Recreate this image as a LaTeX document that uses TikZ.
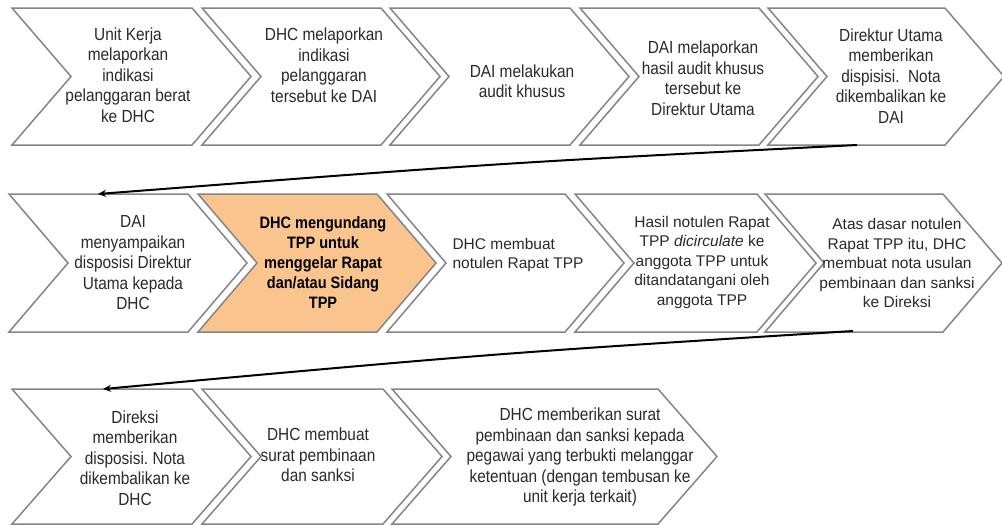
\documentclass[tikz,border=0pt]{standalone}
\usepackage{fontspec}
\setmainfont{Liberation Sans}
\newfontfamily\narrowfont{Liberation Sans}[FakeStretch=0.88]
\usetikzlibrary{arrows.meta}
\frenchspacing

\definecolor{edgegray}{HTML}{858585}
\definecolor{stepfill}{HTML}{FAC48F}
\definecolor{inkgray}{HTML}{2A2A2A}

\tikzset{
  chev/.style={draw=edgegray, line width=1.5pt, fill=white, line join=miter},
  hot/.style={fill=stepfill},
  lbl/.style={align=center, text=inkgray, inner sep=0pt},
  cond/.style={font=\narrowfont\fontsize{17.5}{20.5}\selectfont},
  regular/.style={font=\fontsize{15.5}{19.5}\selectfont},
  strong/.style={font=\narrowfont\bfseries\fontsize{16.5}{20}\selectfont, text=black},
  flow/.style={draw=black, line width=2pt, -{Stealth[length=8pt,width=7pt]}},
}

% chevron: #1 name, #2 left x, #3 right x of the flat edges, #4 top y, #5 bottom y, #6 extra style
\newcommand\drawchev[6]{%
  \path[chev,#6] (#2,#4) -- (#3,#4) -- ({#3+59},{(#4+#5)/2}) -- (#3,#5)
    -- (#2,#5) -- ({#2+59},{(#4+#5)/2}) -- cycle;
  \coordinate (#1) at ({(#2+59+#3)/2},{(#4+#5)/2});
}

\begin{document}
\begin{tikzpicture}[x=1pt,y=-1pt]
\useasboundingbox (0,0) rectangle (1002,525);

% first row
\drawchev{c11}{12}{192}{8}{145}{}
\drawchev{c12}{202}{381}{8}{145}{}
\drawchev{c13}{390}{570}{8}{145}{}
\drawchev{c14}{580}{759}{8}{145}{}
\drawchev{c15}{768}{945}{8}{145}{}

% second row
\drawchev{c21}{9}{188}{194}{332}{}
\drawchev{c22}{198}{377}{194}{332}{hot}
\drawchev{c23}{387}{565}{194}{332}{}
\drawchev{c24}{575}{757}{194}{332}{}
\drawchev{c25}{765}{943}{194}{332}{}

% third row
\drawchev{c31}{12}{192}{389}{524}{}
\drawchev{c32}{202}{383}{389}{524}{}
\drawchev{c33}{392}{658}{389}{524}{}

% step texts
\node[lbl,cond] (t11) at (128,75) {Unit Kerja\\melaporkan\\indikasi\\pelanggaran berat\\ke DHC};
\node[lbl,cond] (t12) at (324,65) {DHC melaporkan\\indikasi\\pelanggaran\\tersebut ke DAI};
\node[lbl,cond] (t13) at (522,81) {DAI melakukan\\audit khusus};
\node[lbl,cond] (t14) at (703,78) {DAI melaporkan\\hasil audit khusus\\tersebut ke\\Direktur Utama};
\node[lbl,cond] (t15) at (891,76) {Direktur Utama\\memberikan\\dispisisi. \ Nota\\dikembalikan ke\\DAI};

\node[lbl,cond] (t21) at (133,263) {DAI\\menyampaikan\\disposisi Direktur\\Utama kepada\\DHC};
\node[lbl,strong] (t22) at (323,263) {DHC mengundang\\TPP untuk\\menggelar Rapat\\dan/atau Sidang\\TPP};
\node[lbl,regular,align=left] (t23) at (518,255) {DHC membuat\\notulen Rapat TPP};
\node[lbl,regular] (t24) at (702,262) {Hasil notulen Rapat\\TPP \textit{dicirculate} ke\\anggota TPP untuk\\ditandatangani oleh\\anggota TPP};
\node[lbl,regular] (t25) at (897,263) {Atas dasar notulen\\Rapat TPP itu, DHC\\membuat nota usulan\\pembinaan dan sanksi\\ke Direksi};

\node[lbl,cond] (t31) at (135,458) {Direksi\\memberikan\\disposisi. Nota\\dikembalikan ke\\DHC};
\node[lbl,cond] (t32) at (318,455) {DHC membuat\\surat pembinaan\\dan sanksi};
\node[lbl,cond] (t33) at (580,457) {DHC memberikan surat\\pembinaan dan sanksi kepada\\pegawai yang terbukti melanggar\\ketentuan (dengan tembusan ke\\unit kerja terkait)};

% row-to-row connectors
\coordinate (out15) at (857,145);
\coordinate (in21) at (98,194);
\coordinate (out25) at (853,331);
\coordinate (in31) at (103,389);
\draw[flow] (out15) .. controls (500,163) .. (in21);
\draw[flow] (out25) .. controls (500,353) .. (in31);
\end{tikzpicture}
\end{document}
